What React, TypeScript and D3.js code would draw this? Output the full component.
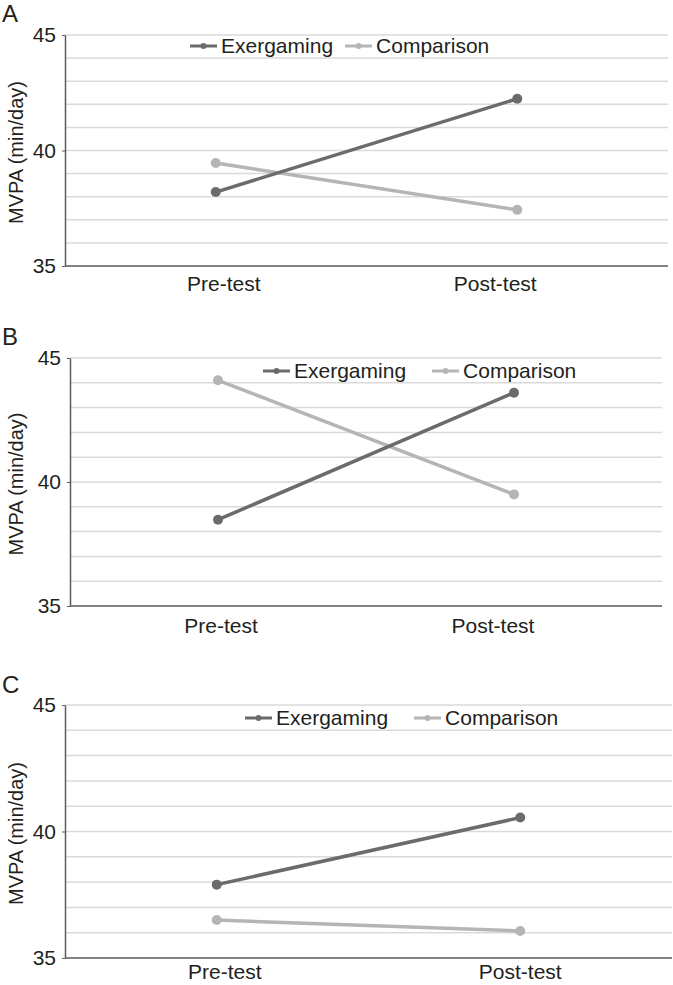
import * as d3 from "d3";
import React, { useEffect, useRef } from "react";

// DATA
const categories = ["Pre-test", "Post-test"];
const seriesNames = ["Exergaming", "Comparison"];
const yTicks = [35, 40, 45];
const gridValues = [36, 37, 38, 39, 40, 41, 42, 43, 44, 45];

const panelLetters = ["A", "B", "C"];
const exergamingA = [38.2, 42.24];
const comparisonA = [39.46, 37.43];
const exergamingB = [38.48, 43.6];
const comparisonB = [44.1, 39.5];
const exergamingC = [37.9, 40.55];
const comparisonC = [36.5, 36.07];

const colors = ["#6b6b6b", "#b5b5b5"];
const FONT = "'Liberation Sans', Arial, Helvetica, sans-serif";

// layout per panel (pixels)
const panels = [
  { letter: panelLetters[0], ex: exergamingA, comp: comparisonA, top: 35, bottom: 266, left: 65, right: 668, letterY: 22, legendX: 190, legendGap: 12, legendY: 46, labelY: 284, labelShift: [8, -22] },
  { letter: panelLetters[1], ex: exergamingB, comp: comparisonB, top: 358, bottom: 606, left: 70, right: 662, letterY: 345, legendX: 263, legendGap: 26, legendY: 371, labelY: 626, labelShift: [3, -21] },
  { letter: panelLetters[2], ex: exergamingC, comp: comparisonC, top: 705, bottom: 958, left: 65, right: 672, letterY: 693, legendX: 245, legendGap: 26, legendY: 718, labelY: 972, labelShift: [8, 0] },
];

export default function App() {
  const svgRef = useRef(null);

  useEffect(() => {
    document.body.style.margin = "0";
    const svgEl = d3.select(svgRef.current);
    svgEl.selectAll("*").remove();

    panels.forEach((p) => {
      const g = svgEl.append("g");

      const x_scale = d3.scaleBand().domain(categories).range([p.left, p.right]);
      const y_scale = d3.scaleLinear().domain([35, 45]).range([p.bottom, p.top]);

      // panel letter
      g.append("text")
        .attr("x", 2)
        .attr("y", p.letterY)
        .attr("font-family", FONT)
        .attr("font-size", 24)
        .attr("fill", "#231f20")
        .text(p.letter);

      // gridlines
      g.selectAll(".grid")
        .data(gridValues)
        .enter()
        .append("line")
        .attr("x1", p.left)
        .attr("x2", p.right)
        .attr("y1", (d) => y_scale(d))
        .attr("y2", (d) => y_scale(d))
        .attr("stroke", "#dadada")
        .attr("stroke-width", 1.5);

      /* Y AXIS */
      const yAxis = g
        .append("g")
        .attr("transform", "translate(" + p.left + ",0)")
        .call(d3.axisLeft(y_scale).tickValues(yTicks).tickSize(3).tickSizeOuter(0).tickPadding(6));
      yAxis.select(".domain").attr("stroke", "#5a5a5a").attr("stroke-width", 1.5);
      yAxis.selectAll(".tick line").attr("stroke", "#5a5a5a");
      yAxis
        .selectAll(".tick text")
        .attr("font-family", FONT)
        .attr("font-size", 21)
        .attr("fill", "#231f20");

      /* X AXIS line */
      g.append("line")
        .attr("x1", p.left)
        .attr("x2", p.right)
        .attr("y1", p.bottom)
        .attr("y2", p.bottom)
        .attr("stroke", "#5a5a5a")
        .attr("stroke-width", 1.5);

      // category labels
      g.selectAll(".cat")
        .data(categories)
        .enter()
        .append("text")
        .attr("x", (d, i) => x_scale(d) + x_scale.bandwidth() / 2 + p.labelShift[i])
        .attr("y", p.labelY)
        .attr("dy", "0.35em")
        .attr("text-anchor", "middle")
        .attr("font-family", FONT)
        .attr("font-size", 21)
        .attr("fill", "#231f20")
        .text((d) => d);

      // y title
      g.append("text")
        .attr("transform", "translate(23," + ((p.top + p.bottom) / 2 + 2) + ") rotate(-90)")
        .attr("text-anchor", "middle")
        .attr("font-family", FONT)
        .attr("font-size", 20)
        .attr("fill", "#231f20")
        .text("MVPA (min/day)");

      // lines
      const line = d3
        .line()
        .x((d, i) => x_scale(categories[i]) + x_scale.bandwidth() / 2)
        .y((d) => y_scale(d));

      [p.comp, p.ex].forEach((vals, k) => {
        const color = k === 0 ? colors[1] : colors[0];
        g.append("path")
          .datum(vals)
          .attr("fill", "none")
          .attr("stroke", color)
          .attr("stroke-width", 3.5)
          .attr("d", line);
        g.selectAll(".pt" + k)
          .data(vals)
          .enter()
          .append("circle")
          .attr("cx", (d, i) => x_scale(categories[i]) + x_scale.bandwidth() / 2)
          .attr("cy", (d) => y_scale(d))
          .attr("r", 5)
          .attr("fill", color);
      });

      // legend
      let lx = p.legendX;
      seriesNames.forEach((name, i) => {
        const lg = g.append("g");
        lg.append("line")
          .attr("x1", lx)
          .attr("x2", lx + 27)
          .attr("y1", p.legendY)
          .attr("y2", p.legendY)
          .attr("stroke", colors[i])
          .attr("stroke-width", 3);
        lg.append("circle")
          .attr("cx", lx + 13.5)
          .attr("cy", p.legendY)
          .attr("r", 3)
          .attr("fill", colors[i]);
        const t = lg
          .append("text")
          .attr("x", lx + 31)
          .attr("y", p.legendY)
          .attr("dy", "0.35em")
          .attr("font-family", FONT)
          .attr("font-size", 21)
          .attr("fill", "#231f20")
          .text(name);
        const w = t.node().getComputedTextLength();
        lx = lx + 31 + w + p.legendGap;
      });
    });
  });

  return <svg width={673} height={985} ref={svgRef} style={{ display: "block" }}></svg>;
}
